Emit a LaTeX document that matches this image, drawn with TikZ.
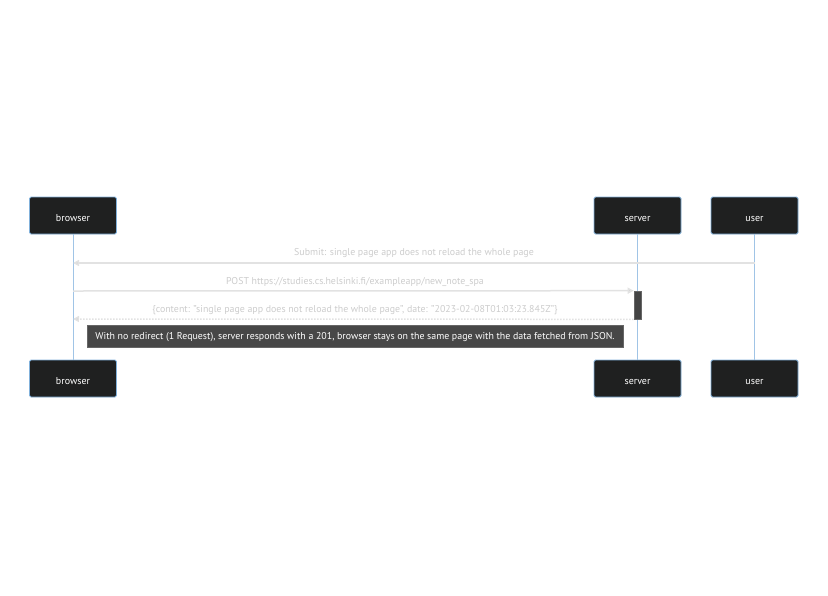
\documentclass[tikz,border=0pt]{standalone}
\usepackage{fontspec}
\setmainfont{PT Sans}
\usetikzlibrary{arrows.meta}
\definecolor{boxfill}{HTML}{1F2020}
\definecolor{boxline}{HTML}{81B1DB}
\definecolor{life}{HTML}{A0C4E6}
\definecolor{msgline}{HTML}{E2E2E2}
\definecolor{msgtext}{HTML}{CCCCCC}
\definecolor{notefill}{HTML}{474747}
\definecolor{noteline}{HTML}{666666}
\definecolor{actfill}{HTML}{444444}
\tikzset{
  x=1pt, y=-1pt,
  actor/.style={draw=boxline, fill=boxfill, rounded corners=1.5pt, line width=0.8pt,
    minimum width=87pt, minimum height=37pt, inner sep=0pt, text=white,
    text height=11pt, text depth=0pt, font=\fontsize{10}{11}\selectfont},
  lifeline/.style={draw=life, line width=1pt},
  msg/.style={draw=msgline, line width=1.5pt, -{Triangle[length=6pt,width=6pt,fill=msgtext]}},
  msgd/.style={draw=msgline, line width=1.5pt, dash pattern=on 1.5pt off 1.5pt, -{Triangle[length=6pt,width=6pt,fill=msgtext]}},
  lbl/.style={text=msgtext, font=\fontsize{9.9}{11}\selectfont, inner sep=0pt},
  notebox/.style={draw=noteline, fill=notefill, line width=0.6pt, text=white, inner sep=0pt,
    minimum width=536pt, minimum height=22pt, text height=9pt, text depth=2pt, font=\fontsize{9.9}{11}\selectfont},
  act/.style={draw=noteline, fill=actfill, line width=0.6pt, minimum width=7pt, minimum height=28pt, inner sep=0pt}
}
\begin{document}
\begin{tikzpicture}
\useasboundingbox (0,0) rectangle (828,595);
% actors
\node[actor] (bt) at (73,215.5) {browser};
\node[actor] (st) at (637.5,215.5) {server};
\node[actor] (ut) at (754.5,215.5) {user};
\node[actor] (bb) at (73,378.5) {browser};
\node[actor] (sb) at (637.5,378.5) {server};
\node[actor] (ub) at (754.5,378.5) {user};
% lifelines
\draw[lifeline] (bt.south) -- (bb.north);
\draw[lifeline] (st.south) -- (sb.north);
\draw[lifeline] (ut.south) -- (ub.north);
% activation
\node[act] (a) at (637.5,305) {};
% coordinates
\coordinate (u1) at (754.5,263);
\coordinate (b1) at (73,263);
\coordinate (b2) at (73,291);
\coordinate (s2) at (a.north west);
\coordinate (s3) at (a.south west);
\coordinate (b3) at (73,319);
\draw[msg] (u1) -- (b1);
\draw[msg] (b2) -- (s2);
\draw[msgd] (s3) -- (b3);
\node[lbl] (l1) at (414,253) {Submit: single page app does not reload the whole page};
\node[lbl] (l2) at (355,282) {POST https://studies.cs.helsinki.fi/exampleapp/new\_note\_spa};
\node[lbl] (l3) at (355,310) {\{content: "single page app does not reload the whole page", date: "2023-02-08T01:03:23.845Z"\}};
\node[notebox] (n) at (355,336) {With no redirect (1 Request), server responds with a 201, browser stays on the same page with the data fetched from JSON.};
\end{tikzpicture}
\end{document}
